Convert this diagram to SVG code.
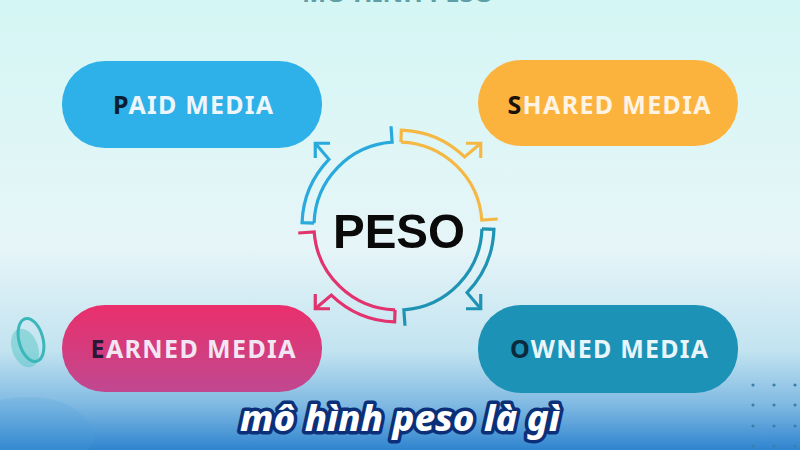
<svg xmlns="http://www.w3.org/2000/svg" width="800" height="450" viewBox="0 0 800 450">
  <defs>
    <linearGradient id="bg" x1="0" y1="0" x2="0" y2="1">
      <stop offset="0" stop-color="#d4f6f4"/>
      <stop offset="0.55" stop-color="#e6f5f8"/>
      <stop offset="0.78" stop-color="#c2e3f0"/>
      <stop offset="0.9" stop-color="#7fb9e2"/>
      <stop offset="1" stop-color="#2f84cf"/>
    </linearGradient>
    <linearGradient id="earned" x1="0" y1="0" x2="0" y2="1">
      <stop offset="0" stop-color="#ea2f6b"/>
      <stop offset="1" stop-color="#c04890"/>
    </linearGradient>
    <style>
      .box-text { font-family: "Noto Sans", "Liberation Sans", sans-serif; font-weight: 700; font-size: 25px; text-anchor: middle; }
      .ring { fill: none; stroke-width: 3.2; stroke-linecap: butt; stroke-linejoin: miter; }
      .caption { font-family: "Noto Sans", "Liberation Sans", sans-serif; font-weight: 800; font-style: italic; font-size: 36px; fill: #ffffff; stroke: #0b2f78; stroke-width: 7; paint-order: stroke; stroke-linejoin: round; text-anchor: middle; }
    </style>
    <g id="quadrant">
      <path d="M 2.93 -83.95 A 84 84 0 0 1 83.80 -5.86 L 99.76 -6.98"/>
      <path d="M 2.93 -83.95 L 3.35 -95.94 A 96 96 0 0 1 66.69 -69.06 L 82.73 -82.73"/>
      <path d="M 68 -82.73 L 82.73 -82.73 L 82.73 -68"/>
    </g>
  </defs>

  <rect width="800" height="450" fill="url(#bg)"/>

  <!-- background decorations -->
  <path d="M 0 400 C 40 392 75 400 90 425 C 98 440 92 450 85 450 L 0 450 Z" fill="#4aa0dc" opacity="0.2"/>
  <ellipse cx="25" cy="348" rx="13" ry="20" transform="rotate(-20 25 348)" fill="#4cc3c0" opacity="0.45"/>
  <ellipse cx="31" cy="340" rx="12" ry="22" transform="rotate(-15 31 340)" fill="none" stroke="#3ab7b9" stroke-width="3"/>
  <g fill="#3a7fa8">
    <circle cx="753" cy="385" r="1.6"/><circle cx="774" cy="385" r="1.6"/><circle cx="795" cy="385" r="1.6"/>
    <circle cx="753" cy="405" r="1.6"/><circle cx="774" cy="405" r="1.6"/><circle cx="795" cy="405" r="1.6"/>
    <circle cx="753" cy="426" r="1.6"/><circle cx="774" cy="426" r="1.6"/><circle cx="795" cy="426" r="1.6"/>
    <circle cx="753" cy="446" r="1.6"/><circle cx="774" cy="446" r="1.6"/><circle cx="795" cy="446" r="1.6"/>
  </g>

  <!-- cut-off title (as printed, clipped at the top edge) -->
  <text x="398" y="2" font-family="Noto Sans, Liberation Sans, sans-serif" font-weight="700" font-size="24" fill="#5e9ea6" text-anchor="middle" textLength="192" lengthAdjust="spacingAndGlyphs">MÔ HÌNH PESO</text>

  <!-- connectors: cycle arrows -->
  <g id="connectors" transform="translate(398 226)">
    <use href="#quadrant" class="ring" stroke="#f6b845"/>
    <use href="#quadrant" class="ring" stroke="#1e93b4" transform="rotate(90)"/>
    <use href="#quadrant" class="ring" stroke="#e2336f" transform="rotate(180)"/>
    <use href="#quadrant" class="ring" stroke="#2aa9dc" transform="rotate(270)"/>
  </g>

  <g id="peso">
    <text x="399" y="248" font-family="Liberation Sans, Arial, sans-serif" font-weight="700" font-size="49" fill="#0a0a0a" text-anchor="middle" textLength="132" lengthAdjust="spacingAndGlyphs">PESO</text>
  </g>

  <g id="paid">
    <rect x="62" y="61" width="260" height="87" rx="43" fill="#2db1e8"/>
    <text class="box-text" x="193" y="114" textLength="160" lengthAdjust="spacing"><tspan fill="#0b1d30">P</tspan><tspan fill="#eef6fb">AID  MEDIA</tspan></text>
  </g>

  <g id="shared">
    <rect x="478" y="60" width="260" height="86" rx="43" fill="#fcb33e"/>
    <text class="box-text" x="609" y="114" textLength="203" lengthAdjust="spacing"><tspan fill="#1a1208">S</tspan><tspan fill="#fff4e4">HARED MEDIA</tspan></text>
  </g>

  <g id="earned">
    <rect x="62" y="305" width="260" height="87" rx="43" fill="url(#earned)"/>
    <text class="box-text" x="193" y="358" textLength="205" lengthAdjust="spacing"><tspan fill="#2a1838">E</tspan><tspan fill="#f1e6f2">ARNED MEDIA</tspan></text>
  </g>

  <g id="owned">
    <rect x="478" y="305" width="260" height="88" rx="43" fill="#1b92b6"/>
    <text class="box-text" x="609" y="358" textLength="198" lengthAdjust="spacing"><tspan fill="#0b2a3e">O</tspan><tspan fill="#e8f5fb">WNED MEDIA</tspan></text>
  </g>

  <text class="caption" x="400" y="431" textLength="320" lengthAdjust="spacingAndGlyphs">mô hình peso là gì</text>
</svg>
